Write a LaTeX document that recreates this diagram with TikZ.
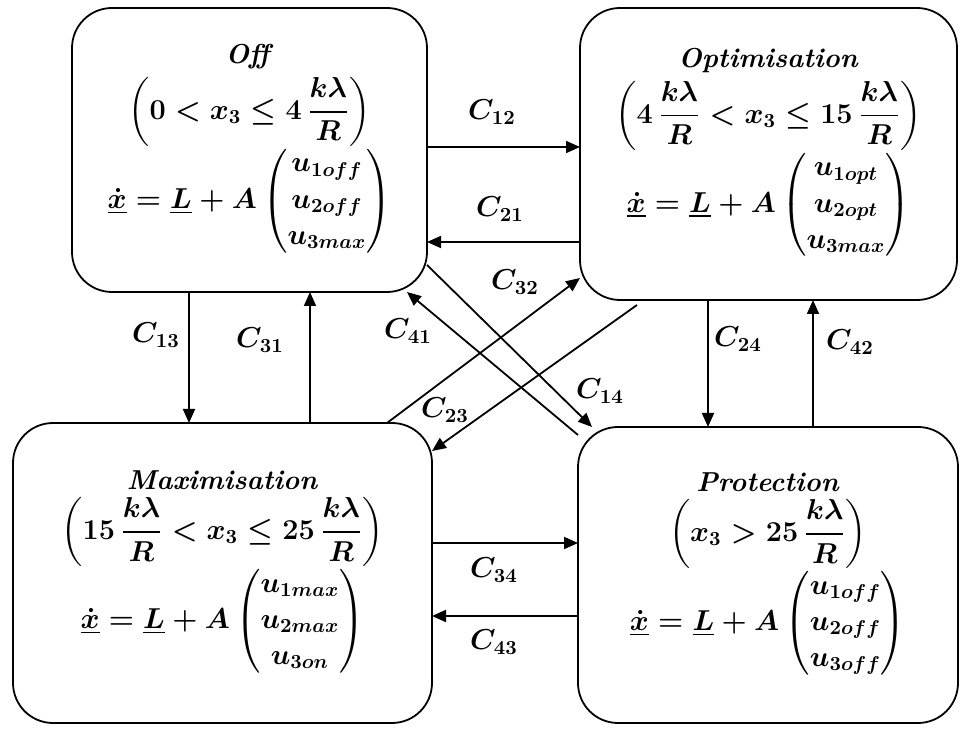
\documentclass[tikz,border=0pt]{standalone}
\usepackage{amsmath}
\usetikzlibrary{arrows.meta}
\renewcommand{\arraystretch}{1.1}
\tikzset{
  stateBox/.style={draw,rounded corners=20pt,line width=0.9pt,inner sep=0pt,outer sep=0pt,align=center,font=\fontsize{13.7}{16.5}\selectfont\boldmath},
  trans/.style={-{Triangle[length=7pt,width=6pt]},line width=0.9pt},
  transLbl/.style={inner sep=1pt,font=\fontsize{14}{16}\selectfont\boldmath}
}
\newcommand{\stTitle}[1]{\textbf{\textit{#1}}}
\newcommand{\klr}{\frac{k\lambda}{R}}

\begin{document}
\begin{tikzpicture}[x=0.5pt,y=-0.5pt]
  \useasboundingbox (0,0) rectangle (960,731);
  \node[stateBox,minimum width=177.5pt,minimum height=142pt] (off) at (249.5,150) {%
    \stTitle{Off}\\[3pt]
    $\displaystyle\left(0<x_3\le 4\,\klr\right)$\\[-1pt]
    $\underline{\dot{x}}=\underline{L}+A\begin{pmatrix}u_{1off}\\u_{2off}\\u_{3max}\end{pmatrix}$};
  \node[stateBox,minimum width=188.5pt,minimum height=146pt] (opt) at (768.5,154) {%
    \stTitle{Optimisation}\\[3pt]
    $\displaystyle\left(4\,\klr<x_3\le 15\,\klr\right)$\\[-1pt]
    $\underline{\dot{x}}=\underline{L}+A\begin{pmatrix}u_{1opt}\\u_{2opt}\\u_{3max}\end{pmatrix}$};
  \node[stateBox,minimum width=209.5pt,minimum height=150pt] (max) at (222.5,573) {%
    \stTitle{Maximisation}\\[3pt]
    $\displaystyle\left(15\,\klr<x_3\le 25\,\klr\right)$\\[-1pt]
    $\underline{\dot{x}}=\underline{L}+A\begin{pmatrix}u_{1max}\\u_{2max}\\u_{3on}\end{pmatrix}$};
  \node[stateBox,minimum width=190pt,minimum height=148pt] (prot) at (768,575) {%
    \stTitle{Protection}\\[3pt]
    $\displaystyle\left(x_3>25\,\klr\right)$\\[-1pt]
    $\underline{\dot{x}}=\underline{L}+A\begin{pmatrix}u_{1off}\\u_{2off}\\u_{3off}\end{pmatrix}$};
  % horizontal
  \draw[trans] ([yshift=1.5pt]off.east) -- ([yshift=3.5pt]opt.west);
  \draw[trans] ([yshift=-44pt]opt.west) -- ([yshift=-46pt]off.east);
  \draw[trans] ([yshift=15pt]max.east) -- ([yshift=16pt]prot.west);
  \draw[trans] ([yshift=-20.5pt]prot.west) -- ([yshift=-21.5pt]max.east);
  % vertical
  \draw[trans] ([xshift=-30.25pt]off.south) -- ([xshift=-16.75pt]max.north);
  \draw[trans] ([xshift=43.75pt]max.north) -- ([xshift=30.25pt]off.south);
  \draw[trans] ([xshift=-30.25pt]opt.south) -- ([xshift=-30pt]prot.north);
  \draw[trans] ([xshift=22.5pt]prot.north) -- ([xshift=22.25pt]opt.south);
  % diagonals
  \draw[trans] ([yshift=13.5pt]off.south east) -- ([xshift=7pt]prot.north west);
  \draw[trans] ([yshift=-4pt]prot.north west) -- ([xshift=-10pt]off.south east);
  \draw[trans] ([xshift=-22.5pt]max.north east) -- ([yshift=11pt]opt.south west);
  \draw[trans] ([xshift=28.5pt,yshift=-2.5pt]opt.south west) -- ([yshift=-14pt]max.north east);
  \foreach \n/\x/\y in {12/492/112,21/500/209,13/156/335,31/260/340,24/738/339,42/850/342,
      34/494/570,43/494/642,32/515/282,41/408/331,23/445/410,14/600/391}
    \node[transLbl] (c\n) at (\x,\y) {$C_{\n}$};
\end{tikzpicture}
\end{document}
